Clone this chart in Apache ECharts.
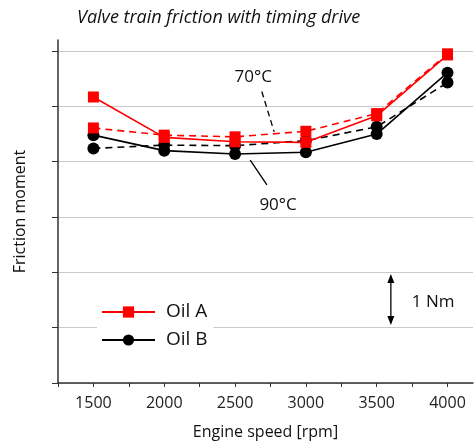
<!DOCTYPE html>
<html>
<head>
<meta charset="utf-8">
<script src="https://cdn.jsdelivr.net/npm/echarts@6/dist/echarts.min.js"></script>
<style>
  html, body { margin: 0; padding: 0; background: #fff; }
  #chart { width: 474px; height: 445px; }
</style>
</head>
<body>
<div id="chart"></div>
<script>
// Engine speeds (rpm) at which friction was measured
const rpm = [1500, 2000, 2500, 3000, 3500, 4000];

// Friction moment (Nm, offset scale) per oil and oil temperature
const oilA90 = [5.17, 4.44, 4.36, 4.35, 4.83, 5.93];
const oilA70 = [4.61, 4.48, 4.45, 4.55, 4.87, 5.95];
const oilB90 = [4.48, 4.20, 4.14, 4.17, 4.50, 5.61];
const oilB70 = [4.24, 4.30, 4.29, 4.38, 4.63, 5.43];

// Tick positions
const xTicks = [1250, 1500, 1750, 2000, 2250, 2500, 2750, 3000, 3250, 3500, 3750, 4000];
const xTickLabels = [1500, 2000, 2500, 3000, 3500, 4000];
const yTicks = [0, 1, 2, 3, 4, 5, 6];

const FONT = 'Open Sans';
const pairs = vals => rpm.map((r, i) => [r, vals[i]]);

function lineSeries(name, vals, color, symbol, size, dashed, z) {
  return {
    name: name,
    type: 'line',
    data: pairs(vals),
    symbol: symbol,
    symbolSize: size,
    z: z,
    itemStyle: { color: color },
    lineStyle: { color: color, width: 1.6, type: dashed ? [7, 5] : 'solid' },
    emphasis: { disabled: true },
    animation: false
  };
}

const chart = echarts.init(document.getElementById('chart'), null, { renderer: 'canvas' });

chart.setOption({
  animation: false,
  backgroundColor: '#fff',
  title: {
    text: 'Valve train friction with timing drive',
    left: 72,
    top: 4,
    textStyle: { fontFamily: FONT, fontStyle: 'italic', fontWeight: 'normal', fontSize: 18, color: '#111' }
  },
  grid: { left: 58, right: 1, top: 40, bottom: 62, containLabel: false },
  legend: {
    data: ['Oil A', 'Oil B'],
    orient: 'vertical',
    left: 97,
    top: 299,
    padding: [2, 6, 2, 4],
    backgroundColor: '#fff',
    itemWidth: 53,
    itemHeight: 14,
    itemGap: 6,
    textStyle: { fontFamily: FONT, fontSize: 19, color: '#111', lineHeight: 22, padding: [0, 0, 0, 6] },
    selectedMode: false
  },
  xAxis: {
    type: 'value',
    min: 1250,
    max: 4180,
    name: 'Engine speed [rpm]',
    nameLocation: 'middle',
    nameGap: 41,
    nameTextStyle: { fontFamily: FONT, fontSize: 16, color: '#111' },
    axisLine: { lineStyle: { color: '#333', width: 1.5 } },
    axisTick: { show: true, length: 4, customValues: xTicks, lineStyle: { color: '#333' } },
    axisLabel: {
      customValues: xTickLabels,
      formatter: v => String(v),
      fontFamily: FONT, fontSize: 16, color: '#222', margin: 12
    },
    splitLine: { show: false }
  },
  yAxis: {
    type: 'value',
    min: 0,
    max: 6.2,
    name: 'Friction moment',
    nameLocation: 'middle',
    nameGap: 30,
    nameTextStyle: { fontFamily: FONT, fontSize: 16, color: '#111' },
    axisLine: { show: true, lineStyle: { color: '#333', width: 1.5 } },
    axisTick: { show: true, length: 6, customValues: yTicks, lineStyle: { color: '#333' } },
    axisLabel: { show: false },
    splitLine: { show: true, lineStyle: { color: '#c8c8c8', width: 1 } }
  },
  series: [
    lineSeries('Oil B', oilB90, '#000', 'circle', 12, false, 2),
    lineSeries('Oil B 70°C', oilB70, '#000', 'circle', 12, true, 2),
    lineSeries('Oil A', oilA90, '#ff0000', 'rect', 11, false, 3),
    lineSeries('Oil A 70°C', oilA70, '#ff0000', 'rect', 11, true, 3)
  ]
});

// Annotations placed in data space: temperature call-outs and the 1 Nm scale bar
const px = (x, y) => chart.convertToPixel({ gridIndex: 0 }, [x, y]);
const textStyle = { fontFamily: FONT, fontSize: 17, fill: '#111' };

function leader(a, b, dashed) {
  const p = px(a[0], a[1]), q = px(b[0], b[1]);
  return {
    type: 'line',
    shape: { x1: p[0], y1: p[1], x2: q[0], y2: q[1] },
    style: { stroke: '#000', lineWidth: 1.3, lineDash: dashed ? [6, 4] : null },
    z: 10
  };
}
function label(text, at, align) {
  const p = px(at[0], at[1]);
  return {
    type: 'text',
    x: p[0], y: p[1],
    style: Object.assign({ text: text, align: align || 'center', verticalAlign: 'middle' }, textStyle),
    z: 10
  };
}
function scaleBar(x, y0, y1) {
  const a = px(x, y0), b = px(x, y1);
  const w = 3.5, h = 9;
  return [
    { type: 'line', shape: { x1: a[0], y1: a[1] - 2, x2: b[0], y2: b[1] + 2 }, style: { stroke: '#000', lineWidth: 1.3 }, z: 10 },
    { type: 'polygon', shape: { points: [[b[0], b[1]], [b[0] - w, b[1] + h], [b[0] + w, b[1] + h]] }, style: { fill: '#000' }, z: 10 },
    { type: 'polygon', shape: { points: [[a[0], a[1]], [a[0] - w, a[1] - h], [a[0] + w, a[1] - h]] }, style: { fill: '#000' }, z: 10 }
  ];
}

chart.setOption({
  graphic: [
    label('70°C', [2628, 5.52]),
    leader([2689, 5.27], [2776, 4.54], true),
    label('90°C', [2804, 3.22]),
    leader([2607, 4.03], [2725, 3.58], false),
    ...scaleBar(3600, 1.05, 1.97),
    label('1 Nm', [3748, 1.47], 'left')
  ]
});
</script>
</body>
</html>
